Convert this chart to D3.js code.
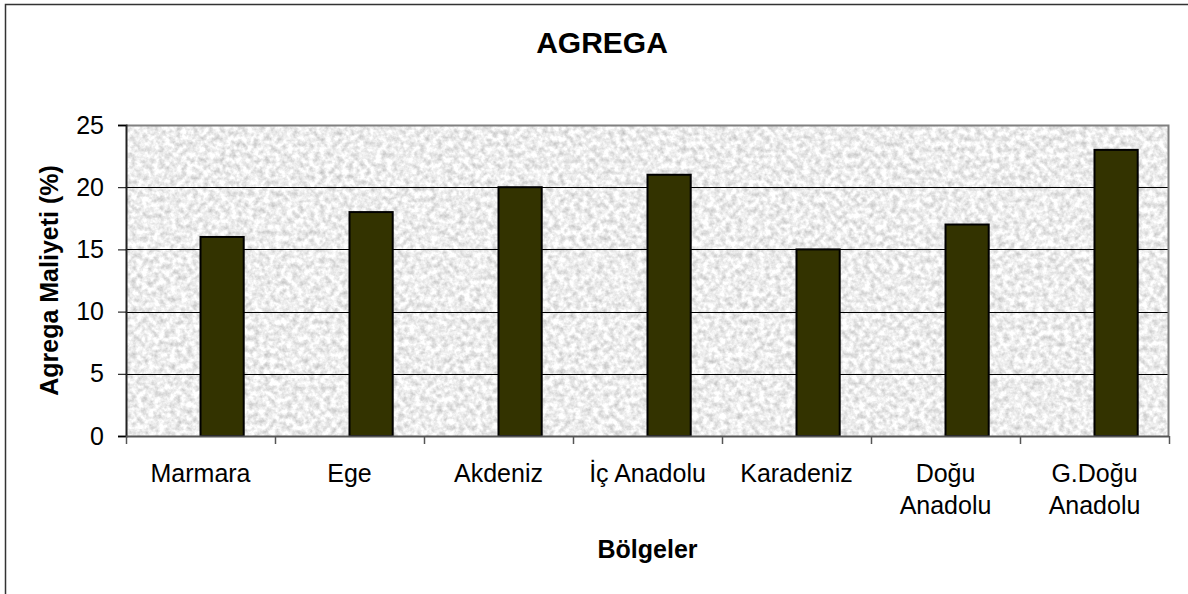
<!DOCTYPE html>
<html>
<head>
<meta charset="utf-8">
<script src="https://cdn.jsdelivr.net/npm/d3@7"></script>
<style>
  body { margin: 0; background: #fff; }
  svg { display: block; font-family: "Liberation Sans", Arial, sans-serif; }
</style>
</head>
<body>
<div id="chart"></div>
<script>
// Data
var categories = ["Marmara", "Ege", "Akdeniz", "İç Anadolu", "Karadeniz", "Doğu Anadolu", "G.Doğu Anadolu"];
var tickLabels = [["Marmara"], ["Ege"], ["Akdeniz"], ["İç Anadolu"], ["Karadeniz"], ["Doğu", "Anadolu"], ["G.Doğu", "Anadolu"]];
var values = [16, 18, 20, 21, 15, 17, 23];
var yTicks = [0, 5, 10, 15, 20, 25];

var W = 1188, H = 594;
var margin = { top: 125, right: 19, bottom: 158, left: 126 },
    width = W - margin.left - margin.right,
    height = H - margin.top - margin.bottom;

var svg = d3.select("#chart").append("svg")
    .attr("width", W)
    .attr("height", H);

// granite texture for the plot area
var defs = svg.append("defs");
var filt = defs.append("filter")
    .attr("id", "granite")
    .attr("x", 0).attr("y", 0).attr("width", 1).attr("height", 1)
    .attr("color-interpolation-filters", "sRGB");
filt.append("feTurbulence")
    .attr("type", "fractalNoise")
    .attr("baseFrequency", "0.18")
    .attr("numOctaves", 3)
    .attr("seed", 7)
    .attr("result", "noise");
filt.append("feColorMatrix")
    .attr("in", "noise")
    .attr("type", "matrix")
    .attr("values", "0.4 0 0 0 0.73  0.4 0 0 0 0.73  0.4 0 0 0 0.73  0 0 0 0 1");

// outer frame
svg.append("rect")
    .attr("x", 5.5).attr("y", 4.5)
    .attr("width", 1300).attr("height", 700)
    .attr("fill", "none")
    .attr("stroke", "#333")
    .attr("stroke-width", 1.5);

var g = svg.append("g")
    .attr("transform", "translate(" + margin.left + "," + margin.top + ")");

var x = d3.scaleBand()
    .domain(categories)
    .range([0, width])
    .padding(0);

var y = d3.scaleLinear()
    .domain([0, 25])
    .range([height, 0]);

// plot background
g.append("rect")
    .attr("width", width)
    .attr("height", height)
    .attr("fill", "#e6e6e6")
    .attr("filter", "url(#granite)");

// gridlines
g.selectAll(".grid")
    .data(yTicks.filter(function (d) { return d > 0 && d < 25; }))
    .enter().append("line")
    .attr("class", "grid")
    .attr("x1", 0).attr("x2", width)
    .attr("y1", function (d) { return Math.round(y(d)) + 0.5; })
    .attr("y2", function (d) { return Math.round(y(d)) + 0.5; })
    .attr("stroke", "#000")
    .attr("stroke-width", 1);

// top / right border
g.append("path")
    .attr("d", "M0," + (y(25) + 0.5) + "H" + (width - 0.5) + "V" + height)
    .attr("fill", "none")
    .attr("stroke", "#808080")
    .attr("stroke-width", 2);

// bars (single series sits in the right half of each band)
var barW = x.bandwidth() * 0.29;
g.selectAll(".bar")
    .data(values)
    .enter().append("rect")
    .attr("class", "bar")
    .attr("x", function (d, i) { return x(categories[i]) + x.bandwidth() / 2; })
    .attr("width", barW)
    .attr("y", function (d) { return y(d); })
    .attr("height", function (d) { return height - y(d); })
    .attr("fill", "#333300")
    .attr("stroke", "#000")
    .attr("stroke-width", 2);

// Y axis
var yAxis = g.append("g")
    .call(d3.axisLeft(y).tickValues(yTicks).tickSize(8).tickPadding(14));
yAxis.select(".domain").attr("stroke", "#222").attr("stroke-width", 2);
yAxis.selectAll(".tick line").attr("stroke", "#000");
yAxis.selectAll(".tick text")
    .attr("font-size", "25px")
    .attr("fill", "#000")
    .attr("font-family", "Liberation Sans, Arial, sans-serif");

// X axis: ticks on band boundaries
var xAxisG = g.append("g")
    .attr("transform", "translate(0," + height + ")");
xAxisG.append("line")
    .attr("x1", 0).attr("x2", width)
    .attr("y1", 0.5).attr("y2", 0.5)
    .attr("stroke", "#555")
    .attr("stroke-width", 2);
xAxisG.selectAll(".xtick")
    .data(d3.range(categories.length + 1))
    .enter().append("line")
    .attr("x1", function (i) { return Math.round(i * x.step()) + 0.5; })
    .attr("x2", function (i) { return Math.round(i * x.step()) + 0.5; })
    .attr("y1", 0).attr("y2", 8)
    .attr("stroke", "#555")
    .attr("stroke-width", 1.5);

var labels = xAxisG.selectAll(".xlabel")
    .data(categories)
    .enter().append("text")
    .attr("class", "xlabel")
    .attr("text-anchor", "middle")
    .attr("font-size", "25px")
    .attr("fill", "#000")
    .attr("transform", function (d) { return "translate(" + (x(d) + x.bandwidth() / 2) + ",46)"; });
labels.selectAll("tspan")
    .data(function (d, i) { return tickLabels[i]; })
    .enter().append("tspan")
    .attr("x", 0)
    .attr("y", function (d, j) { return j * 32; })
    .text(function (d) { return d; });

// Chart title
svg.append("text")
    .attr("x", 602)
    .attr("y", 53)
    .attr("text-anchor", "middle")
    .attr("font-size", "30px")
    .attr("font-weight", "bold")
    .text("AGREGA");

// axis titles
svg.append("text")
    .attr("x", margin.left + width / 2)
    .attr("y", 558)
    .attr("text-anchor", "middle")
    .attr("font-size", "25px")
    .attr("font-weight", "bold")
    .text("Bölgeler");

svg.append("text")
    .attr("transform", "translate(58," + (margin.top + height / 2) + ")rotate(-90)")
    .attr("text-anchor", "middle")
    .attr("font-size", "25px")
    .attr("font-weight", "bold")
    .text("Agrega Maliyeti (%)");
</script>
</body>
</html>
